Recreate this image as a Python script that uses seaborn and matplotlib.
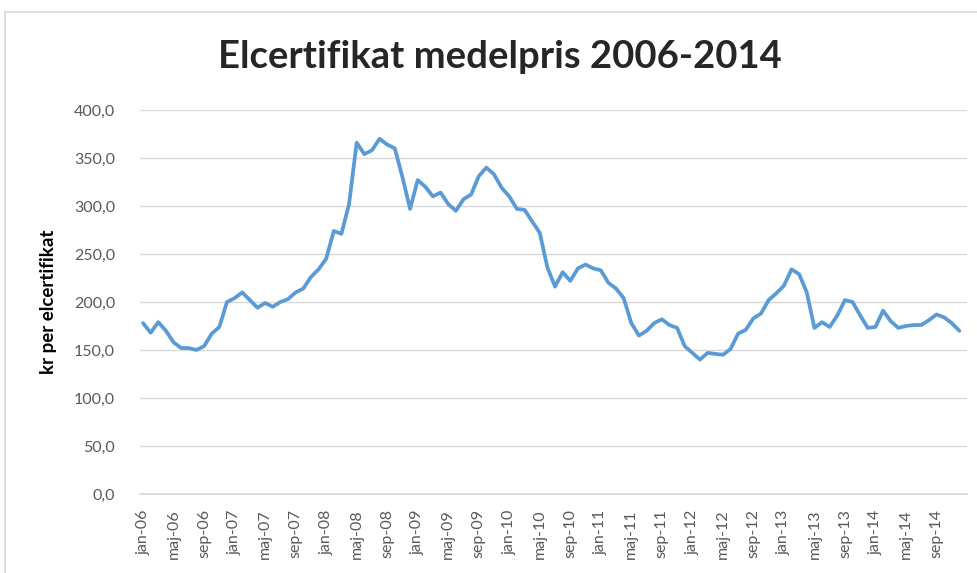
import matplotlib

matplotlib.use("Agg")
import matplotlib.pyplot as plt
import pandas as pd
import seaborn as sns
from matplotlib.lines import Line2D
from matplotlib.ticker import FuncFormatter

# monthly average price, jan-06 .. dec-14 (kr per elcertifikat)
prices = [
    178, 168, 179, 170, 158, 152, 152, 150, 154, 167, 174, 200,
    204, 210, 202, 194, 199, 195, 200, 203, 210, 214, 226, 234,
    245, 274, 271, 302, 366, 354, 358, 370, 364, 360, 330, 297,
    327, 320, 310, 314, 302, 295, 307, 312, 331, 340, 333, 319,
    310, 297, 296, 284, 272, 236, 216, 231, 222, 235, 239, 235,
    233, 220, 214, 204, 178, 165, 170, 178, 182, 176, 173, 154,
    147, 140, 147, 146, 145, 151, 167, 171, 183, 188, 202, 209,
    217, 234, 229, 210, 173, 179, 174, 186, 202, 200, 186, 173,
    174, 191, 180, 173, 175, 176, 176, 181, 187, 184, 178, 170,
]
years = list(range(6, 15))
tick_months = ["jan", "maj", "sep"]
tick_labels = [f"{m}-{y:02d}" for y in years for m in tick_months]
y_ticks = [0, 50, 100, 150, 200, 250, 300, 350, 400]

TITLE = "Elcertifikat medelpris 2006-2014"
Y_LABEL = "kr per elcertifikat"

df = pd.DataFrame({"month": range(len(prices)), "price": prices})

sns.set_theme(style="white")
plt.rcParams["font.family"] = ["Lato", "DejaVu Sans"]

fig = plt.figure(figsize=(9.77, 5.73), dpi=100)
ax = fig.add_axes([140 / 977, 79 / 573, 827 / 977, 384 / 573])

sns.lineplot(data=df, x="month", y="price", color="#5B9BD5", linewidth=2.7, ax=ax)

ax.set_xlim(-0.4, 108)
ax.set_ylim(0, 400)
ax.set_yticks(y_ticks)
ax.yaxis.set_major_formatter(FuncFormatter(lambda v, _: f"{v:.1f}".replace(".", ",")))
ax.set_xticks(range(0, 4 * len(tick_labels), 4))
ax.set_xticklabels(tick_labels, rotation=90)
ax.tick_params(axis="both", length=0, labelsize=11.5, labelcolor="#595959")
ax.tick_params(axis="x", pad=11)
ax.tick_params(axis="y", pad=18)

ax.grid(axis="y", color="#D9D9D9", linewidth=1)
ax.grid(axis="x", visible=False)
for side in ["top", "right", "left"]:
    ax.spines[side].set_visible(False)
ax.spines["bottom"].set_color("#D9D9D9")
ax.set_xlabel("")
ax.set_ylabel(Y_LABEL, fontsize=13.5, fontweight="bold", color="black", labelpad=12)

fig.text(0.512, 1 - 57 / 573, TITLE, ha="center", va="center",
         fontsize=27.5, fontweight="bold", color="#262626")

# chart frame (cropped on the right and bottom)
frame_color = "#D9D9D9"
fig.add_artist(Line2D([5 / 977, 5 / 977], [0, 1 - 12 / 573], transform=fig.transFigure,
                      color=frame_color, linewidth=1.2))
fig.add_artist(Line2D([5 / 977, 1], [1 - 12 / 573, 1 - 12 / 573], transform=fig.transFigure,
                      color=frame_color, linewidth=1.2))

fig.savefig("out.png", dpi=100)
